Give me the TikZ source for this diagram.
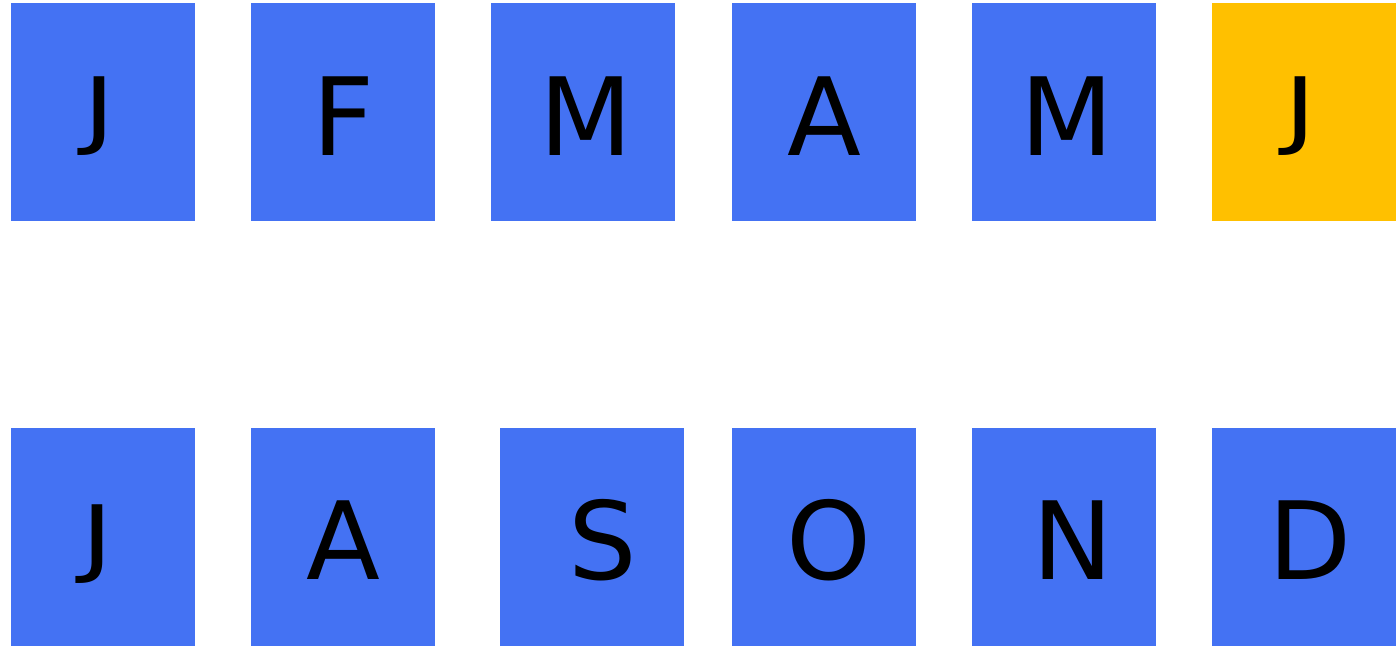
\documentclass[tikz,border=0pt]{standalone}
\usepackage{fontspec}
\usepackage{graphicx}
\setmainfont{DejaVu Sans}
\definecolor{monthblue}{HTML}{4472F3}
\definecolor{monthgold}{HTML}{FFC000}
% J sitting on the baseline
\newcommand{\baseJ}{\resizebox{\width}{0.729em}{\raisebox{\depth}{J}}}
\begin{document}
\begin{tikzpicture}[
  x=1pt, y=-1pt,
  month/.style={rectangle, fill=monthblue, minimum width=184pt, minimum height=218pt,
    inner sep=0pt},
  current/.style={month, fill=monthgold},
  letter/.style={anchor=base, inner sep=0pt, font=\fontsize{108}{108}\selectfont}
]
\useasboundingbox (0,0) rectangle (1396,646);
% first half
\node[month]   (jan) at (103,112)  {};
\node[month]   (feb) at (343,112)  {};
\node[month]   (mar) at (583,112)  {};
\node[month]   (apr) at (824,112)  {};
\node[month]   (may) at (1064,112) {};
\node[current] (jun) at (1304,112) {};
\node[letter] (jan-l) at (99,155)   {\baseJ};
\node[letter] (feb-l) at (344,155)  {F};
\node[letter] (mar-l) at (586,155)  {M};
\node[letter] (apr-l) at (824,155)  {A};
\node[letter] (may-l) at (1067,155) {M};
\node[letter] (jun-l) at (1300,155) {\baseJ};
% second half
\node[month] (jul) at (103,537)  {};
\node[month] (aug) at (343,537)  {};
\node[month] (sep) at (592,537)  {};
\node[month] (oct) at (824,537)  {};
\node[month] (nov) at (1064,537) {};
\node[month] (dec) at (1304,537) {};
\node[letter] (jul-l) at (97,583)   {\baseJ};
\node[letter] (aug-l) at (343,579)  {A};
\node[letter] (sep-l) at (603,579)  {S};
\node[letter] (oct-l) at (829,579)  {O};
\node[letter] (nov-l) at (1073,579) {N};
\node[letter] (dec-l) at (1310,579) {D};
\end{tikzpicture}
\end{document}
